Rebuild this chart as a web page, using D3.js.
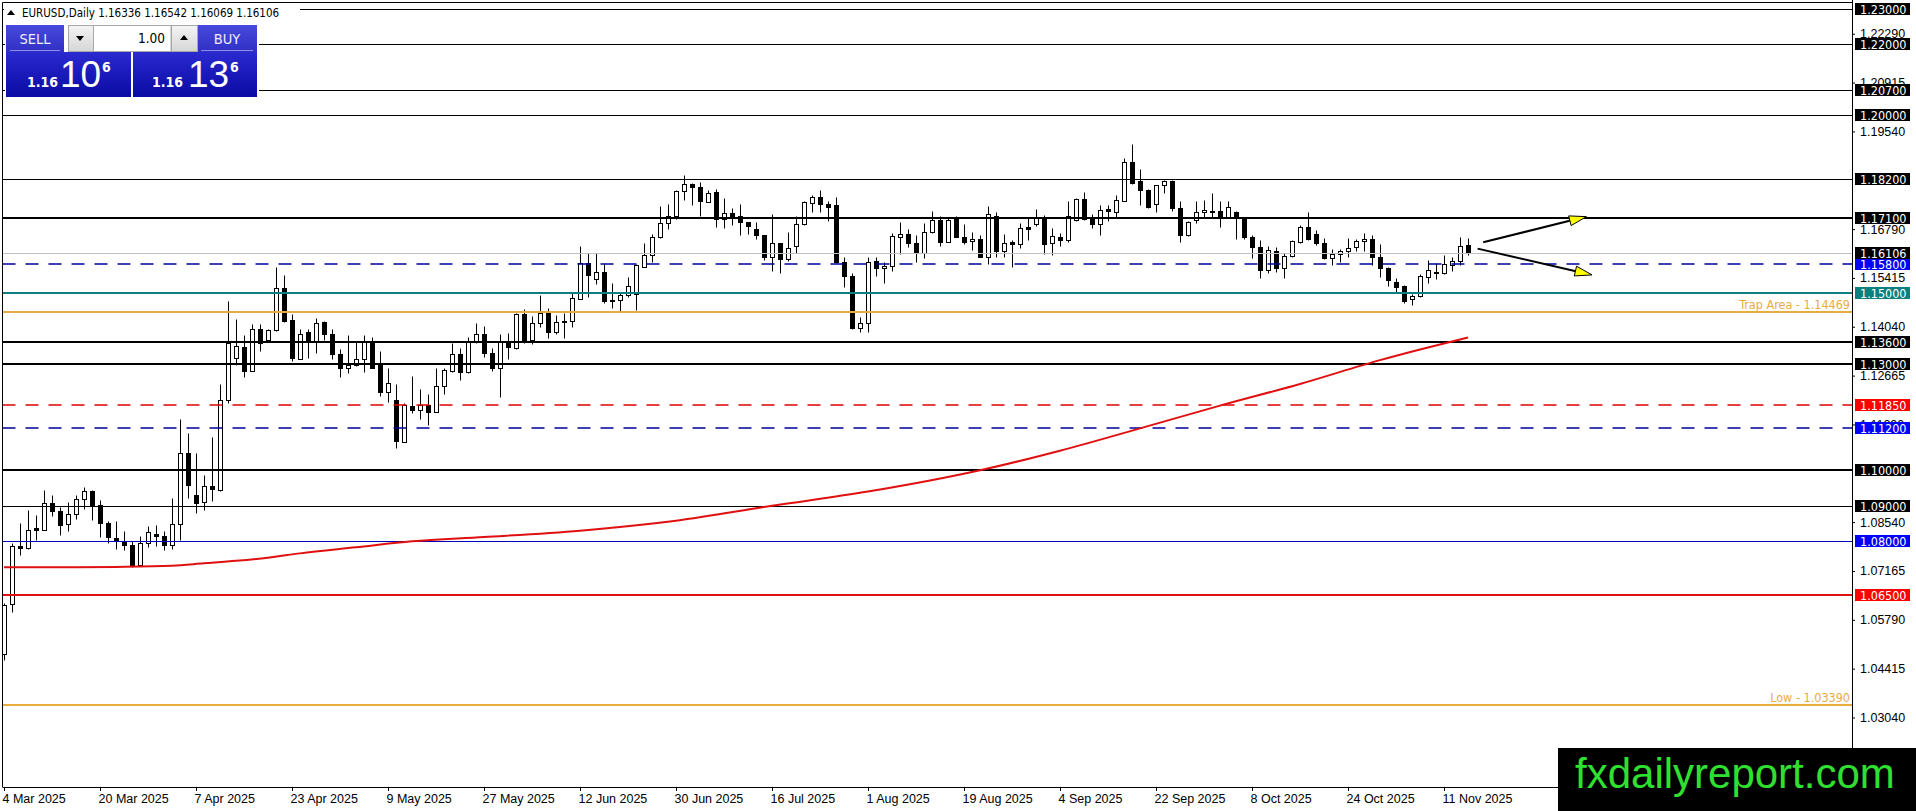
<!DOCTYPE html>
<html>
<head>
<meta charset="utf-8">
<script src="https://cdn.jsdelivr.net/npm/d3@7"></script>
<style>
  body { margin: 0; background: #fff; }
  svg { display: block; font-family: "DejaVu Sans Condensed", "DejaVu Sans", sans-serif; }
</style>
</head>
<body>
<svg id="chart" width="1916" height="811"></svg>
<script>
/* EURUSD daily, 4 Mar 2025 - 14 Nov 2025, one bar per trading day */
const symbolTitle = "EURUSD,Daily";

const open = [
  1.0482,1.0624,1.0788,1.0781,1.0837,1.0833,1.0908,1.0885,1.0849,1.0877,1.0919,1.0943,1.0901,1.0852,1.0809,1.0797,
  1.0789,1.0732,1.0795,1.0821,1.0816,1.0789,1.0849,1.1049,1.0930,1.0911,1.0957,1.0945,1.1197,1.1317,1.1348,1.1279,
  1.1398,1.1366,1.1394,1.1514,1.1422,1.1313,1.1388,1.1360,1.1416,1.1385,1.1326,1.1287,1.1296,1.1312,1.1365,1.1296,
  1.1221,1.1197,1.1080,1.1181,1.1171,1.1185,1.1164,1.1237,1.1280,1.1326,1.1277,1.1362,1.1383,1.1329,1.1289,1.1365,
  1.1343,1.1439,1.1367,1.1414,1.1442,1.1390,1.1421,1.1421,1.1482,1.1583,1.1538,1.1559,1.1478,1.1479,1.1493,1.1496,
  1.1573,1.1606,1.1658,1.1697,1.1716,1.1785,1.1805,1.1797,1.1755,1.1782,1.1708,1.1724,1.1717,1.1698,1.1680,1.1661,
  1.1600,1.1639,1.1594,1.1630,1.1693,1.1752,1.1769,1.1749,1.1747,1.1587,1.1547,1.1401,1.1414,1.1590,1.1569,1.1575,
  1.1658,1.1664,1.1639,1.1613,1.1672,1.1705,1.1644,1.1712,1.1658,1.1646,1.1651,1.1601,1.1717,1.1616,1.1642,1.1636,
  1.1684,1.1693,1.1712,1.1639,1.1658,1.1647,1.1705,1.1763,1.1711,1.1693,1.1736,1.1728,1.1758,1.1867,1.1813,1.1789,
  1.1749,1.1802,1.1815,1.1738,1.1663,1.1705,1.1726,1.1731,1.1730,1.1714,1.1726,1.1711,1.1656,1.1628,1.1564,1.1616,
  1.1569,1.1604,1.1644,1.1684,1.1664,1.1639,1.1597,1.1608,1.1616,1.1628,1.1646,1.1650,1.1600,1.1569,1.1529,1.1519,
  1.1481,1.1491,1.1545,1.1557,1.1555,1.1578,1.1590,1.16336
];
const high = [
  1.0626,1.0795,1.0852,1.0889,1.0875,1.0945,1.0931,1.0897,1.0910,1.0931,1.0953,1.0945,1.0917,1.0856,1.0858,1.0828,
  1.0800,1.0816,1.0844,1.0847,1.0828,1.0922,1.1145,1.1105,1.1049,1.0988,1.1094,1.1242,1.1476,1.1425,1.1380,1.1413,
  1.1411,1.1397,1.1573,1.1549,1.1439,1.1397,1.1397,1.1428,1.1420,1.1397,1.1340,1.1381,1.1364,1.1381,1.1376,1.1336,
  1.1289,1.1242,1.1188,1.1265,1.1228,1.1216,1.1287,1.1287,1.1359,1.1343,1.1376,1.1415,1.1406,1.1343,1.1383,1.1387,
  1.1444,1.1453,1.1434,1.1493,1.1456,1.1437,1.1442,1.1498,1.1630,1.1611,1.1613,1.1580,1.1528,1.1503,1.1543,1.1581,
  1.1641,1.1665,1.1744,1.1751,1.1789,1.1832,1.1810,1.1811,1.1789,1.1791,1.1766,1.1738,1.1750,1.1700,1.1700,1.1663,
  1.1722,1.1641,1.1672,1.1716,1.1759,1.1775,1.1789,1.1759,1.1769,1.1600,1.1556,1.1432,1.1600,1.1600,1.1585,1.1667,
  1.1698,1.1679,1.1663,1.1695,1.1731,1.1716,1.1714,1.1716,1.1694,1.1672,1.1663,1.1744,1.1728,1.1665,1.1647,1.1695,
  1.1710,1.1735,1.1719,1.1681,1.1669,1.1759,1.1766,1.1782,1.1721,1.1747,1.1747,1.1775,1.1879,1.1919,1.1848,1.1791,
  1.1804,1.1818,1.1818,1.1757,1.1703,1.1757,1.1761,1.1780,1.1759,1.1758,1.1730,1.1714,1.1663,1.1648,1.1630,1.1628,
  1.1613,1.1648,1.1691,1.1726,1.1677,1.1653,1.1622,1.1622,1.1653,1.1650,1.1667,1.1663,1.1637,1.1573,1.1540,1.1522,
  1.1496,1.1552,1.1592,1.1583,1.1606,1.1600,1.1656,1.16542
];
const low = [
  1.0466,1.0601,1.0762,1.0778,1.0805,1.0831,1.0872,1.0819,1.0828,1.0864,1.0891,1.0859,1.0812,1.0795,1.0778,1.0776,
  1.0729,1.0732,1.0784,1.0786,1.0776,1.0778,1.0803,1.0922,1.0880,1.0889,1.0913,1.0941,1.1188,1.1295,1.1263,1.1279,
  1.1335,1.1364,1.1392,1.1417,1.1307,1.1313,1.1315,1.1329,1.1367,1.1313,1.1263,1.1273,1.1294,1.1277,1.1287,1.1210,
  1.1193,1.1064,1.1080,1.1162,1.1143,1.1127,1.1164,1.1216,1.1277,1.1254,1.1274,1.1359,1.1320,1.1280,1.1207,1.1312,
  1.1341,1.1357,1.1355,1.1402,1.1371,1.1383,1.1371,1.1404,1.1481,1.1489,1.1524,1.1472,1.1458,1.1449,1.1489,1.1451,
  1.1573,1.1587,1.1653,1.1679,1.1707,1.1760,1.1748,1.1717,1.1755,1.1686,1.1681,1.1691,1.1661,1.1665,1.1651,1.1592,
  1.1562,1.1556,1.1590,1.1613,1.1691,1.1728,1.1728,1.1703,1.1583,1.1517,1.1399,1.1390,1.1390,1.1547,1.1526,1.1562,
  1.1609,1.1628,1.1587,1.1597,1.1667,1.1630,1.1644,1.1656,1.1637,1.1620,1.1600,1.1581,1.1601,1.1601,1.1573,1.1627,
  1.1648,1.1688,1.1609,1.1606,1.1630,1.1644,1.1703,1.1705,1.1681,1.1661,1.1701,1.1714,1.1757,1.1806,1.1747,1.1738,
  1.1726,1.1780,1.1730,1.1644,1.1660,1.1697,1.1714,1.1714,1.1684,1.1712,1.1650,1.1650,1.1597,1.1540,1.1555,1.1559,
  1.1540,1.1600,1.1641,1.1647,1.1634,1.1594,1.1578,1.1585,1.1600,1.1616,1.1616,1.1578,1.1545,1.1519,1.1500,1.1472,
  1.1465,1.1489,1.1528,1.1538,1.1553,1.1562,1.1578,1.16069
];
const close = [
  1.0621,1.0786,1.0781,1.0831,1.0831,1.0908,1.0884,1.0847,1.0877,1.0919,1.0943,1.0901,1.0852,1.0812,1.0800,1.0789,
  1.0732,1.0795,1.0825,1.0814,1.0789,1.0849,1.1049,1.0958,1.0907,1.0955,1.0947,1.1197,1.1359,1.1350,1.1279,1.1398,
  1.1359,1.1394,1.1514,1.1420,1.1317,1.1385,1.1360,1.1415,1.1385,1.1326,1.1287,1.1296,1.1312,1.1365,1.1289,1.1221,
  1.1247,1.1083,1.1183,1.1169,1.1183,1.1163,1.1237,1.1282,1.1326,1.1277,1.1362,1.1383,1.1329,1.1289,1.1365,1.1346,
  1.1439,1.1367,1.1414,1.1442,1.1390,1.1418,1.1418,1.1484,1.1583,1.1550,1.1559,1.1477,1.1476,1.1493,1.1520,1.1578,
  1.1606,1.1658,1.1697,1.1716,1.1787,1.1805,1.1797,1.1758,1.1780,1.1707,1.1724,1.1717,1.1698,1.1689,1.1661,1.1600,
  1.1639,1.1594,1.1625,1.1693,1.1754,1.1769,1.1749,1.1742,1.1585,1.1547,1.1401,1.1414,1.1585,1.1569,1.1575,1.1660,
  1.1664,1.1641,1.1613,1.1672,1.1705,1.1644,1.1705,1.1658,1.1644,1.1651,1.1601,1.1721,1.1616,1.1639,1.1636,1.1681,
  1.1680,1.1710,1.1637,1.1660,1.1647,1.1717,1.1764,1.1707,1.1693,1.1733,1.1731,1.1761,1.1867,1.1810,1.1788,1.1742,
  1.1802,1.1815,1.1738,1.1663,1.1700,1.1726,1.1733,1.1728,1.1714,1.1740,1.1717,1.1656,1.1628,1.1564,1.1620,1.1569,
  1.1604,1.1646,1.1686,1.1650,1.1639,1.1597,1.1608,1.1617,1.1625,1.1646,1.1650,1.1601,1.1569,1.1536,1.1517,1.1477,
  1.1491,1.1547,1.1564,1.1555,1.1580,1.1590,1.1630,1.16106
];

// moving average read at a few bars
const maBar = [0, 7, 14, 21, 25, 29, 33, 37, 44, 51, 60, 72, 84, 96, 108, 122, 132, 142, 152, 162, 172, 177, 183];
const maVal = [1.0727,1.0727,1.0728,1.0731,1.0738,1.0745,1.0754,1.0766,1.0783,1.0800,1.0812,1.0830,1.0858,1.0900,
               1.0940,1.1000,1.1055,1.1118,1.1182,1.1243,1.1310,1.1340,1.1374];

// date axis
const dateBar = [0, 12, 24, 36, 48, 60, 72, 84, 96, 108, 120, 132, 144, 156, 168, 180];
const dateLabels = ["4 Mar 2025","20 Mar 2025","7 Apr 2025","23 Apr 2025","9 May 2025","27 May 2025","12 Jun 2025",
  "30 Jun 2025","16 Jul 2025","1 Aug 2025","19 Aug 2025","4 Sep 2025","22 Sep 2025","8 Oct 2025","24 Oct 2025","11 Nov 2025"];

// price axis (ticks that are not covered by a level box)
const priceTicks = [1.22290,1.20915,1.19540,1.16790,1.15415,1.14040,1.12665,1.11290,1.08540,1.07165,1.05790,1.04415,1.03040];

// horizontal levels
const levelPrices = [1.23,1.22,1.207,1.20,1.182,1.171,1.158,1.15,1.14469,1.136,1.13,1.1185,1.112,1.10,1.09,1.08,1.065,1.0339];
const levelNames  = {1.14469: "Trap Area - 1.14469", 1.0339: "Low - 1.03390"};

// arrows: [bar, price] -> [bar, price]
const arrowFrom = [[184.9, 1.1642], [184.2, 1.1624]];
const arrowTo   = [[197.8, 1.1714], [198.5, 1.1550]];

// ---- styles ----
const thin = {c: "#000", w: 1}, thick = {c: "#000", w: 2};
const levelStyle = {
  1.23: thin, 1.22: thin, 1.207: thin, 1.20: thin, 1.182: thin, 1.171: thick,
  1.158: {c: "#00009c", w: 1.4, dash: "13,10", box: "#0000ff"},
  1.15: {c: "#0f7f7f", w: 2, box: "#0a8080"},
  1.14469: {c: "#e8ac3c", w: 2, label: true},
  1.136: thick, 1.13: thick,
  1.1185: {c: "#e00000", w: 1.4, dash: "13,10", box: "#ff0000"},
  1.112: {c: "#00009c", w: 1.4, dash: "13,10", box: "#0000ff"},
  1.10: thick, 1.09: thin,
  1.08: {c: "#0000c0", w: 1, box: "#0000ff"},
  1.065: {c: "#e01010", w: 2, box: "#ff0000"},
  1.0339: {c: "#e8ac3c", w: 2, label: true}
};

const W = 1916, H = 811;
const L = 2.5, T = 2.5, R = 1852, B = 787;

const svg = d3.select("#chart");
const x = d3.scaleLinear().domain([0, 231]).range([4, R]);
const y = d3.scaleLinear().domain([1.23, 1.0339]).range([8.5, 705.05]);
const px = v => Math.round(x(v)) + 0.5;
const py = v => Math.round(y(v)) + 0.5;
const lineY = (p, w) => w === 1 ? Math.round(y(p)) + 0.5 : Math.round(y(p));

svg.append("rect").attr("width", W).attr("height", H).attr("fill", "#fff");

// candles
const bars = open.map((o, i) => ({i, o, h: high[i], l: low[i], c: close[i]}));
const cg = svg.append("g");
cg.selectAll("line").data(bars).join("line")
  .attr("x1", d => px(d.i)).attr("x2", d => px(d.i))
  .attr("y1", d => py(d.h)).attr("y2", d => py(d.l))
  .attr("stroke", "#000").attr("stroke-width", 1);
cg.selectAll("rect").data(bars).join("rect")
  .attr("x", d => px(d.i) - 2).attr("width", 4)
  .attr("y", d => py(Math.max(d.o, d.c)))
  .attr("height", d => Math.max(1, py(Math.min(d.o, d.c)) - py(Math.max(d.o, d.c))))
  .attr("fill", d => d.c >= d.o ? "#fff" : "#000")
  .attr("stroke", "#000").attr("stroke-width", 1);

// level lines
const lg = svg.append("g");
levelPrices.forEach(p => {
  const s = levelStyle[p];
  const ly = lineY(p, s.w);
  lg.append("line")
    .attr("x1", L).attr("x2", R).attr("y1", ly).attr("y2", ly)
    .attr("stroke", s.c).attr("stroke-width", s.w)
    .attr("stroke-dasharray", s.dash || null);
  if (s.label) {
    lg.append("text").attr("x", R - 2).attr("y", ly - 3)
      .attr("text-anchor", "end").attr("font-size", 12.5).attr("fill", s.c)
      .text(levelNames[p]);
  }
});

// current price line
const last = close[close.length - 1];
lg.append("line").attr("x1", L).attr("x2", R).attr("y1", lineY(last, 1)).attr("y2", lineY(last, 1))
  .attr("stroke", "#c0c0c0").attr("stroke-width", 1);

// moving average
svg.append("path")
  .datum(maBar.map((b, k) => [b, maVal[k]]))
  .attr("fill", "none").attr("stroke", "#e01010").attr("stroke-width", 2)
  .attr("d", d3.line().x(d => x(d[0])).y(d => y(d[1])).curve(d3.curveMonotoneX));

// arrows
const ag = svg.append("g");
arrowFrom.forEach((f, k) => {
  const x1 = x(f[0]), y1 = y(f[1]), x2 = x(arrowTo[k][0]), y2 = y(arrowTo[k][1]);
  const ang = Math.atan2(y2 - y1, x2 - x1);
  ag.append("line").attr("x1", x1).attr("y1", y1).attr("x2", x2 - 10 * Math.cos(ang)).attr("y2", y2 - 10 * Math.sin(ang))
    .attr("stroke", "#000").attr("stroke-width", 2);
  const len = 17, hw = 5;
  const bx = x2 - len * Math.cos(ang), by = y2 - len * Math.sin(ang);
  const pts = [[x2, y2], [bx + hw * Math.sin(ang), by - hw * Math.cos(ang)], [bx - hw * Math.sin(ang), by + hw * Math.cos(ang)]];
  ag.append("polygon").attr("points", pts.map(q => q.join(",")).join(" "))
    .attr("fill", "#ffff00").attr("stroke", "#000").attr("stroke-width", 1);
});

// frame
svg.append("path")
  .attr("d", `M${L},${B}V${T}H${R}`).attr("fill", "none").attr("stroke", "#000");
svg.append("line").attr("x1", L).attr("x2", R).attr("y1", B + 0.5).attr("y2", B + 0.5).attr("stroke", "#000");
svg.append("line").attr("x1", R + 0.5).attr("x2", R + 0.5).attr("y1", 0).attr("y2", H).attr("stroke", "#000");

// price axis
const ya = svg.append("g").attr("transform", `translate(${R},0)`)
  .call(d3.axisRight(y).tickValues(priceTicks).tickFormat(d3.format(".5f")).tickSize(3).tickPadding(5));
ya.select(".domain").remove();
ya.selectAll("text").attr("font-size", 12.5).attr("font-family", null).attr("fill", "#000");

// level price boxes on the axis
const bg = svg.append("g");
const boxes = levelPrices.filter(p => !levelStyle[p].label).map(p => ({p, col: levelStyle[p].box || "#000"}));
boxes.push({p: last, col: "#000"});
bg.selectAll("rect").data(boxes).join("rect")
  .attr("x", R + 3).attr("y", d => Math.round(y(d.p)) - 6).attr("width", 55).attr("height", 12)
  .attr("fill", d => d.col);
bg.selectAll("text").data(boxes).join("text")
  .attr("x", R + 8).attr("y", d => Math.round(y(d.p))).attr("dy", "0.36em")
  .attr("font-size", 12.5).attr("fill", "#fff")
  .text(d => d3.format(".5f")(d.p));

// date axis
const xa = svg.append("g").attr("transform", `translate(0,${B})`)
  .call(d3.axisBottom(x).tickValues(dateBar).tickFormat((d, k) => dateLabels[k]).tickSize(4).tickPadding(3));
xa.select(".domain").remove();
xa.selectAll("text").attr("text-anchor", "start").attr("x", -2)
  .attr("font-size", 12.5).attr("font-family", null).attr("fill", "#000");

// header
svg.append("rect").attr("x", 4).attr("y", 4).attr("width", 296).attr("height", 16).attr("fill", "#fff");
svg.append("polygon").attr("points", "7,15 15,15 11,10").attr("fill", "#000");
svg.append("text").attr("x", 22).attr("y", 17).attr("font-size", 11.5).attr("fill", "#000")
  .text(`${symbolTitle} ${[open, high, low, close].map(a => a[a.length - 1].toFixed(5)).join(" ")}`);

// one-click trading panel
const defs = svg.append("defs");
const grad = (id, a, b) => {
  const g = defs.append("linearGradient").attr("id", id).attr("x1", 0).attr("x2", 0).attr("y1", 0).attr("y2", 1);
  g.append("stop").attr("offset", 0).attr("stop-color", a);
  g.append("stop").attr("offset", 1).attr("stop-color", b);
};
grad("btn", "#4848dc", "#3030c4");
grad("price", "#2a2ad0", "#0a0aa4");
grad("grey", "#f4f4f4", "#d6d6d6");

const pn = svg.append("g");
pn.append("rect").attr("x", 5).attr("y", 24).attr("width", 254).attr("height", 75).attr("fill", "#fff");
[[6, 58, "SELL"], [197, 60, "BUY"]].forEach(([bx, bw, t]) => {
  pn.append("rect").attr("x", bx).attr("y", 25).attr("width", bw).attr("height", 27).attr("fill", "url(#btn)");
  pn.append("line").attr("x1", bx + 4).attr("x2", bx + bw - 4).attr("y1", 50.5).attr("y2", 50.5)
    .attr("stroke", "#8c8cf0").attr("stroke-width", 1);
  pn.append("text").attr("x", bx + bw / 2).attr("y", 44).attr("text-anchor", "middle")
    .attr("font-size", 14.5).attr("fill", "#eef").text(t);
});
[[68, 25, "M76,36 L84,36 L80,41 Z"], [171, 26, "M180,40 L188,40 L184,35 Z"]].forEach(([bx, bw, tri]) => {
  pn.append("rect").attr("x", bx + 0.5).attr("y", 25.5).attr("width", bw).attr("height", 26)
    .attr("fill", "url(#grey)").attr("stroke", "#a8a8a8");
  pn.append("path").attr("d", tri).attr("fill", "#000");
});
pn.append("rect").attr("x", 93.5).attr("y", 25.5).attr("width", 77.5).attr("height", 26)
  .attr("fill", "#fff").attr("stroke", "#a8a8a8");
pn.append("text").attr("x", 165).attr("y", 43).attr("text-anchor", "end")
  .attr("font-size", 13.5).attr("fill", "#000").text("1.00");

[[6, 125, 27, 62, 102, "10"], [133, 124, 152, 190, 230, "13"]].forEach(([bx, bw, a, b, c, big]) => {
  pn.append("rect").attr("x", bx).attr("y", 52).attr("width", bw).attr("height", 45).attr("fill", "url(#price)");
  pn.append("text").attr("x", a).attr("y", 87).attr("font-size", 14).attr("font-weight", "bold")
    .attr("fill", "#fff").text("1.16");
  pn.append("text").attr("x", b - 2).attr("y", 87).attr("font-size", 37).attr("fill", "#fff")
    .attr("font-family", "'Liberation Sans', Arial, sans-serif").text(big);
  pn.append("text").attr("x", c).attr("y", 72).attr("font-size", 14).attr("font-weight", "bold")
    .attr("fill", "#fff").text("6");
});

// watermark
svg.append("rect").attr("x", 1558).attr("y", 748).attr("width", W - 1558).attr("height", H - 748).attr("fill", "#000");
svg.append("text").attr("x", 1575).attr("y", 788)
  .attr("font-family", "'Liberation Sans', Arial, sans-serif").attr("font-size", 42)
  .attr("fill", "#30e030").text("fxdailyreport.com");
</script>
</body>
</html>
